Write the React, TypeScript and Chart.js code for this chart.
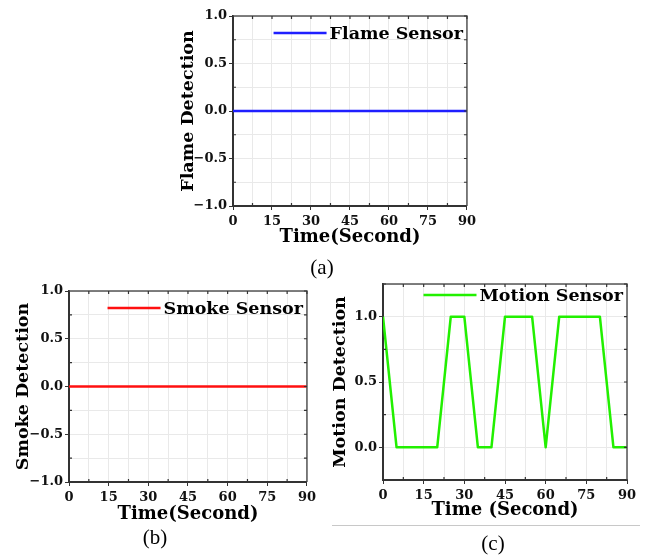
import React, { useEffect, useRef } from "react";
import { Chart, registerables } from "chart.js";

Chart.register(...registerables);

// ---- data ----
const timeSeconds = [0, 5, 10, 15, 20, 25, 30, 35, 40, 45, 50, 55, 60, 65, 70, 75, 80, 85, 90];
const flameValues = [0, 0, 0, 0, 0, 0, 0, 0, 0, 0, 0, 0, 0, 0, 0, 0, 0, 0, 0];
const smokeValues = [0, 0, 0, 0, 0, 0, 0, 0, 0, 0, 0, 0, 0, 0, 0, 0, 0, 0, 0];
const motionValues = [1, 0, 0, 0, 0, 1, 1, 0, 0, 1, 1, 1, 0, 1, 1, 1, 1, 0, 0];
const xTickLabels = [0, 15, 30, 45, 60, 75, 90];
const yTickLabelsFull = [-1, -0.5, 0, 0.5, 1];
const yTickLabelsMotion = [0, 0.5, 1];

const SERIF = "'DejaVu Serif', serif";

const has = (list: number[], v: number) => list.some((l) => Math.abs(l - v) < 1e-6);
const fmtY = (v: number) => (v < 0 ? "\u2212" + Math.abs(v).toFixed(1) : v.toFixed(1));

type PanelProps = {
  left: number;
  top: number;
  width: number;
  height: number;
  label: string;
  color: string;
  values: number[];
  yMin: number;
  yMax: number;
  yLabels: number[];
  yTitle: string;
  xTitle: string;
  padTop: number;
  padRight: number;
  yAxisWidth: number;
  xAxisHeight: number;
  yTitlePad: number;
  xTitlePad: number;
  legendDy: number;
};

function Panel(p: PanelProps) {
  const ref = useRef<HTMLCanvasElement | null>(null);
  useEffect(() => {
    if (!ref.current) return;
    const tickFont = { family: SERIF, size: 13, weight: "bold" as const };
    const xTitleFont = { family: SERIF, size: 18, weight: "bold" as const };
    const yTitleFont = { family: SERIF, size: 17.5, weight: "bold" as const };

    const framePlugin = {
      id: "frame",
      afterDraw(chart: any) {
        const { ctx, chartArea } = chart;
        const { left, right, top, bottom } = chartArea;
        const xs = chart.scales.x;
        const ys = chart.scales.y;
        ctx.save();
        ctx.strokeStyle = "#555";
        ctx.lineWidth = 1.5;
        ctx.beginPath();
        ctx.moveTo(left, top);
        ctx.lineTo(right, top);
        ctx.lineTo(right, bottom);
        ctx.stroke();
        ctx.lineWidth = 1.2;
        ctx.strokeStyle = "#333";
        ctx.beginPath();
        for (const t of xs.ticks) {
          const px = xs.getPixelForValue(t.value);
          ctx.moveTo(px, top);
          ctx.lineTo(px, top + 3);
          if (!has(xTickLabels, t.value)) {
            ctx.moveTo(px, bottom);
            ctx.lineTo(px, bottom - 3);
          }
        }
        for (const t of ys.ticks) {
          const py = ys.getPixelForValue(t.value);
          ctx.moveTo(right, py);
          ctx.lineTo(right - 3, py);
          if (!has(p.yLabels, t.value)) {
            ctx.moveTo(left, py);
            ctx.lineTo(left + 3, py);
          }
        }
        ctx.stroke();
        ctx.restore();
      },
    };

    const legendPlugin = {
      id: "inlineLegend",
      afterDraw(chart: any) {
        const { ctx, chartArea } = chart;
        const ds = chart.data.datasets[0];
        ctx.save();
        ctx.font = `bold 17.5px ${SERIF}`;
        ctx.textBaseline = "middle";
        ctx.textAlign = "left";
        const w = ctx.measureText(ds.label).width;
        const textRight = chartArea.right - 4;
        const textLeft = textRight - w;
        const y = chartArea.top + p.legendDy;
        ctx.strokeStyle = ds.borderColor;
        ctx.lineWidth = 2.5;
        ctx.beginPath();
        ctx.moveTo(textLeft - 56, y);
        ctx.lineTo(textLeft - 3, y);
        ctx.stroke();
        ctx.fillStyle = "#000";
        ctx.fillText(ds.label, textLeft, y + 1);
        ctx.restore();
      },
    };

    const chart = new Chart(ref.current, {
      type: "line",
      data: {
        datasets: [
          {
            label: p.label,
            data: timeSeconds.map((t, i) => ({ x: t, y: p.values[i] })),
            borderColor: p.color,
            backgroundColor: p.color,
            borderWidth: 2.5,
            borderJoinStyle: "round",
            pointRadius: 0,
            tension: 0,
            fill: false,
          },
        ],
      },
      options: {
        animation: false,
        responsive: false,
        layout: { padding: { top: p.padTop, right: p.padRight, left: 0, bottom: 0 } },
        plugins: { legend: { display: false }, tooltip: { enabled: false } },
        scales: {
          x: {
            type: "linear",
            min: 0,
            max: 90,
            ticks: {
              stepSize: 7.5,
              autoSkip: false,
              maxRotation: 0,
              padding: 4,
              font: tickFont,
              color: "#111",
              callback: (v: any) => (has(xTickLabels, Number(v)) ? String(Math.round(Number(v))) : ""),
            },
            grid: {
              color: "#e9e9e9",
              lineWidth: 1,
              drawTicks: true,
              tickLength: 4,
              tickColor: (c: any) => (c.tick && has(xTickLabels, c.tick.value) ? "#333" : "rgba(0,0,0,0)"),
            },
            border: { color: "#333", width: 2 },
            title: {
              display: true,
              text: p.xTitle,
              font: xTitleFont,
              color: "#000",
              padding: { top: 0, bottom: p.xTitlePad },
            },
            afterFit: (s: any) => {
              s.height = p.xAxisHeight;
            },
          },
          y: {
            type: "linear",
            min: p.yMin,
            max: p.yMax,
            ticks: {
              stepSize: 0.25,
              autoSkip: false,
              padding: 2,
              font: tickFont,
              color: "#111",
              callback: (v: any) => (has(p.yLabels, Number(v)) ? fmtY(Number(v)) : ""),
            },
            grid: {
              color: "#e9e9e9",
              lineWidth: 1,
              drawTicks: true,
              tickLength: 4,
              tickColor: (c: any) => (c.tick && has(p.yLabels, c.tick.value) ? "#333" : "rgba(0,0,0,0)"),
            },
            border: { color: "#333", width: 2 },
            title: {
              display: true,
              text: p.yTitle,
              font: yTitleFont,
              color: "#000",
              padding: { top: p.yTitlePad, bottom: 0 },
            },
            afterFit: (s: any) => {
              s.width = p.yAxisWidth;
            },
          },
        },
      } as any,
      plugins: [framePlugin, legendPlugin],
    });
    return () => chart.destroy();
  }, []);

  return (
    <canvas
      ref={ref}
      width={p.width}
      height={p.height}
      style={{ position: "absolute", left: p.left, top: p.top, width: p.width, height: p.height }}
    />
  );
}

const captionStyle = (left: number, top: number): React.CSSProperties => ({
  position: "absolute",
  left,
  top,
  transform: "translate(-50%, -50%)",
  fontFamily: "'Liberation Serif', serif",
  fontSize: 21,
  color: "#000",
  lineHeight: 1,
});

export default function App() {
  return (
    <div style={{ position: "absolute", left: 0, top: 0, width: 646, height: 556, background: "#fff", overflow: "hidden" }}>
      <Panel
        left={170}
        top={0}
        width={310}
        height={255}
        label="Flame Sensor"
        color="#1f1fff"
        values={flameValues}
        yMin={-1}
        yMax={1}
        yLabels={yTickLabelsFull}
        yTitle="Flame Detection"
        xTitle="Time(Second)"
        padTop={16}
        padRight={12}
        yAxisWidth={63}
        xAxisHeight={49}
        yTitlePad={8}
        xTitlePad={7}
        legendDy={17}
      />
      <Panel
        left={0}
        top={280}
        width={320}
        height={247}
        label="Smoke Sensor"
        color="#ff1010"
        values={smokeValues}
        yMin={-1}
        yMax={1}
        yLabels={yTickLabelsFull}
        yTitle="Smoke Detection"
        xTitle="Time(Second)"
        padTop={11}
        padRight={13}
        yAxisWidth={69}
        xAxisHeight={45}
        yTitlePad={13}
        xTitlePad={2}
        legendDy={17}
      />
      <Panel
        left={320}
        top={270}
        width={326}
        height={252}
        label="Motion Sensor"
        color="#22f000"
        values={motionValues}
        yMin={-0.25}
        yMax={1.25}
        yLabels={yTickLabelsMotion}
        yTitle="Motion Detection"
        xTitle="Time (Second)"
        padTop={14}
        padRight={19}
        yAxisWidth={63}
        xAxisHeight={42}
        yTitlePad={10}
        xTitlePad={1}
        legendDy={11}
      />
      <div style={{ position: "absolute", left: 332, top: 525, width: 308, height: 1, background: "#c8c8c8" }} />
      <div style={captionStyle(322, 267)}>(a)</div>
      <div style={captionStyle(155, 537)}>(b)</div>
      <div style={captionStyle(493, 543)}>(c)</div>
    </div>
  );
}
